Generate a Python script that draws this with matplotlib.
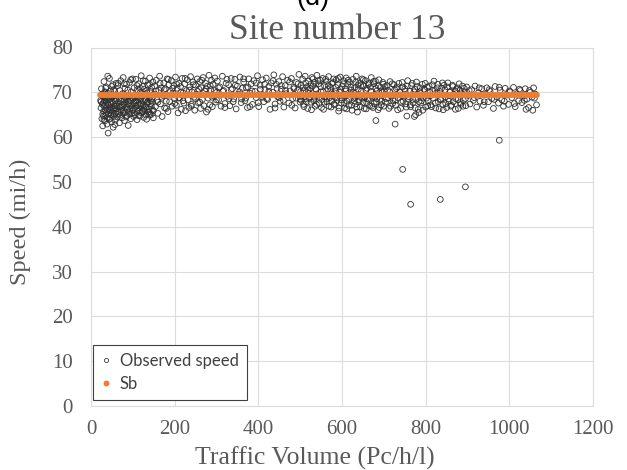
import matplotlib
matplotlib.use("Agg")
import matplotlib.pyplot as plt
from matplotlib.lines import Line2D

# ---------------- data ----------------
obs_volume = [
    # 22-60
    23, 24, 25, 26, 27, 28, 29, 30, 31, 32, 33, 34, 35, 36, 37, 38, 39, 40, 41, 42,
    43, 44, 45, 46, 47, 48, 49, 50, 51, 52, 53, 54, 55, 56, 57, 58, 59, 60,
    26, 29, 33, 36, 38, 42, 45, 48, 51, 54, 57, 60, 31, 44, 53, 40, 35, 47, 58, 28,
    # 60-150
    61, 62, 63, 64, 65, 66, 67, 68, 69, 70, 71, 72, 73, 74, 75, 76, 77, 78, 79, 80,
    81, 82, 83, 84, 85, 86, 87, 88, 89, 90, 91, 92, 93, 94, 95, 96, 97, 98, 99, 100,
    101, 102, 103, 104, 105, 106, 107, 108, 109, 110, 111, 112, 113, 114, 115, 116,
    117, 118, 119, 120, 121, 122, 123, 124, 125, 126, 127, 128, 129, 130, 131, 132,
    133, 134, 135, 136, 137, 138, 139, 140, 141, 142, 143, 144, 145, 146, 147, 148,
    149, 150,
    # 150-300
    152, 154, 156, 158, 160, 162, 164, 166, 168, 170, 172, 174, 176, 178, 180, 182,
    184, 186, 188, 190, 192, 194, 196, 198, 200, 202, 204, 206, 208, 210, 212, 214,
    216, 218, 220, 222, 224, 226, 228, 230, 232, 234, 236, 238, 240, 242, 244, 246,
    248, 250, 252, 254, 256, 258, 260, 262, 264, 266, 268, 270, 272, 274, 276, 278,
    280, 282, 284, 286, 288, 290, 292, 294, 296, 298, 300,
    # 300-500
    302, 305, 308, 311, 314, 317, 320, 323, 326, 329, 332, 335, 338, 341, 344, 347,
    350, 353, 356, 359, 362, 365, 368, 371, 374, 377, 380, 383, 386, 389, 392, 395,
    398, 401, 404, 407, 410, 413, 416, 419, 422, 425, 428, 431, 434, 437, 440, 443,
    446, 449, 452, 455, 458, 461, 464, 467, 470, 473, 476, 479, 482, 485, 488, 491,
    494, 497, 500,
    # 500-700
    502, 504, 506, 508, 510, 512, 514, 516, 518, 520, 522, 524, 526, 528, 530, 532,
    534, 536, 538, 540, 542, 544, 546, 548, 550, 552, 554, 556, 558, 560, 562, 564,
    566, 568, 570, 572, 574, 576, 578, 580, 582, 584, 586, 588, 590, 592, 594, 596,
    598, 600, 602, 604, 606, 608, 610, 612, 614, 616, 618, 620, 622, 624, 626, 628,
    630, 632, 634, 636, 637, 638, 640, 642, 644, 646, 648, 650, 652, 654, 656, 658,
    660, 662, 664, 666, 668, 670, 672, 674, 676, 678, 680, 681, 682, 684, 686, 688,
    690, 692, 694, 696, 698, 700,
    # 700-900
    703, 706, 709, 712, 715, 718, 721, 724, 727, 727, 730, 733, 736, 739, 742, 745,
    748, 751, 754, 755, 757, 760, 763, 766, 769, 772, 773, 775, 776, 778, 781, 784,
    784, 787, 790, 793, 796, 799, 802, 805, 808, 811, 814, 817, 820, 823, 826, 829,
    832, 835, 838, 841, 844, 847, 850, 853, 856, 859, 862, 865, 868, 871, 874, 877,
    880, 883, 886, 889, 892, 895, 898,
    # 900-1065
    902, 906, 910, 914, 918, 922, 926, 930, 934, 938, 942, 946, 950, 954, 958, 962,
    966, 970, 974, 978, 982, 986, 990, 994, 998, 1002, 1006, 1010, 1014, 1018, 1022,
    1026, 1030, 1034, 1038, 1042, 1046, 1050, 1054, 1058, 1062, 1065,
    # low outliers
    745, 764, 835, 895, 976,
]

obs_speed = [
    # 22-60
    68.2, 66.5, 70.8, 64.1, 67.3, 62.5, 69.0, 65.8, 72.4, 66.9, 63.6, 68.7, 64.9, 71.2,
    67.8, 62.9, 66.2, 69.8, 60.9, 65.1, 68.4, 73.1, 66.7, 64.2, 70.3, 67.5, 63.4, 68.9,
    65.6, 71.7, 66.1, 64.6, 69.3, 67.0, 62.8, 68.1, 65.3, 72.0,
    69.3, 67.6, 70.1, 65.4, 68.8, 67.2, 69.1, 65.0, 67.9, 70.6, 66.4, 68.5, 63.9, 64.0,
    62.2, 73.6, 67.1, 66.0, 63.8, 65.1,
    # 60-150
    66.3, 69.4, 64.5, 71.5, 67.7, 65.2, 68.6, 63.2, 70.4, 66.8, 72.6, 65.9, 68.0, 64.3,
    69.7, 67.1, 73.3, 66.0, 68.3, 63.7, 70.9, 65.5, 67.9, 66.6, 71.8, 64.8, 68.9, 67.3,
    62.6, 69.2, 65.7, 72.2, 66.4, 68.1, 64.1, 70.1, 67.0, 65.3, 73.0, 68.5, 66.2, 64.6,
    71.0, 67.6, 69.0, 65.0, 72.9, 66.9, 68.3, 63.9, 70.6, 67.2, 65.8, 71.9, 68.7, 66.5,
    64.7, 70.0, 67.4, 73.7, 65.4, 69.1, 66.0, 71.3, 68.0, 64.4, 70.7, 67.0, 65.9, 72.5,
    68.4, 66.7, 64.0, 69.9, 67.8, 71.6, 65.6, 68.9, 66.3, 73.2, 64.9, 70.2, 67.5, 65.1,
    71.1, 68.6, 66.1, 72.3, 64.3, 69.6,
    # 150-300
    71.4, 66.8, 72.7, 68.2, 65.3, 70.5, 73.6, 67.4, 71.0, 64.6, 69.3, 72.1, 66.5, 70.8,
    68.0, 73.0, 65.7, 71.7, 67.9, 70.2, 72.6, 66.9, 69.8, 71.5, 68.6, 73.4, 67.1, 70.9,
    65.4, 72.0, 68.8, 71.3, 66.2, 73.1, 69.9, 67.6, 71.9, 65.9, 70.4, 72.8, 68.3, 66.6,
    71.2, 73.5, 67.3, 70.1, 72.3, 68.9, 66.0, 71.6, 69.5, 73.0, 67.7, 70.7, 72.4, 66.4,
    71.0, 68.4, 73.3, 67.0, 70.3, 72.0, 65.6, 71.4, 68.7, 73.8, 67.2, 70.6, 72.7, 66.8,
    71.8, 69.2, 73.2, 67.8, 70.0,
    # 300-500
    72.5, 68.3, 71.2, 66.9, 73.6, 70.4, 67.5, 72.0, 69.1, 71.7, 67.0, 73.1, 70.8, 68.5,
    72.9, 66.3, 71.4, 69.6, 73.4, 67.7, 70.9, 72.3, 68.1, 71.0, 66.6, 73.0, 69.8, 71.9,
    67.3, 72.6, 70.2, 68.8, 73.7, 66.8, 71.6, 69.4, 72.8, 67.9, 70.6, 73.2, 68.4, 71.3,
    66.2, 72.1, 70.0, 73.9, 67.4, 71.8, 69.0, 72.4, 68.0, 70.7, 73.5, 66.7, 71.5, 69.7,
    72.7, 67.6, 70.3, 73.1, 68.6, 71.1, 66.5, 72.2, 70.5, 74.0, 67.8,
    # 500-700
    71.6, 69.2, 72.9, 67.3, 70.4, 73.6, 68.6, 71.2, 66.4, 72.5, 69.8, 70.9, 67.8, 73.3,
    71.4, 68.1, 72.2, 66.9, 70.6, 73.8, 69.4, 71.9, 67.5, 72.7, 70.1, 68.4, 73.1, 66.2,
    71.5, 69.0, 72.4, 67.9, 70.7, 73.5, 68.8, 71.1, 66.7, 72.0, 69.6, 73.0, 67.2, 70.3,
    72.8, 68.2, 71.7, 65.8, 70.0, 73.4, 67.6, 71.3, 69.1, 72.6, 66.5, 70.8, 73.2, 68.0,
    71.8, 67.1, 72.3, 69.7, 70.5, 66.0, 72.9, 68.7, 71.0, 67.4, 73.6, 69.3, 65.6, 71.6,
    68.3, 72.1, 66.8, 70.2, 73.0, 67.7, 71.4, 69.0, 72.6, 66.3, 70.9, 68.5, 72.0, 67.0,
    71.2, 73.3, 68.9, 66.6, 71.9, 69.5, 72.5, 63.7, 67.9, 70.4, 66.1, 72.8, 68.4, 71.1,
    67.2, 70.0, 72.2, 66.9,
    # 700-900
    71.3, 68.6, 70.5, 66.4, 72.4, 69.1, 67.5, 71.7, 62.9, 68.2, 70.8, 66.1, 72.0, 69.4,
    67.8, 71.2, 68.9, 70.3, 66.7, 64.7, 72.6, 69.0, 67.2, 71.5, 68.4, 70.1, 64.6, 66.5,
    65.0, 72.3, 69.6, 67.9, 65.5, 71.0, 68.1, 66.0, 70.7, 72.0, 68.7, 67.0, 71.4, 69.2,
    66.8, 70.4, 72.5, 67.6, 69.9, 71.8, 66.3, 68.5, 70.9, 67.3, 71.6, 69.0, 66.6, 72.1,
    68.0, 70.2, 67.1, 71.3, 69.5, 66.2, 70.6, 68.3, 71.9, 67.7, 69.7, 66.9, 70.9, 68.6,
    71.2,
    # 900-1065
    69.3, 67.4, 70.6, 68.2, 71.4, 66.7, 69.9, 68.0, 70.8, 67.1, 69.5, 71.0, 67.9, 70.2,
    68.6, 66.4, 71.3, 69.0, 67.6, 70.5, 68.3, 66.9, 70.9, 69.4, 67.3, 70.1, 68.8, 71.1,
    66.8, 69.7, 68.1, 70.4, 67.7, 69.2, 70.8, 68.5, 66.6, 70.0, 68.9, 71.0, 69.6, 67.2,
    # low outliers
    52.8, 45.0, 46.1, 48.9, 59.3,
]

obs_volume_2 = [
    24, 27, 30, 32, 34, 37, 39, 41, 43, 46, 49, 52, 55, 58,
    62, 64, 67, 69, 72, 74, 77, 79, 82, 84, 87, 89, 92, 94, 97, 99,
    102, 104, 107, 109, 112, 114, 117, 119, 122, 124, 127, 129, 132, 134, 137, 139,
    142, 144, 147, 149,
    35, 50, 65, 80, 95, 110, 125, 140, 57, 88, 118, 133,
    155, 165, 175, 185, 195, 205, 215, 225, 235, 245, 255, 265, 275, 285, 295,
    305, 315, 325, 335, 345, 355, 365, 375, 385, 395, 405, 415, 425, 435, 445, 455,
    465, 475, 485, 495,
    160, 180, 200, 220, 240, 260, 280, 300, 320, 340, 360, 380, 400, 420, 440, 460,
    480, 500,
    170, 210, 250, 290, 330, 370, 410, 450, 490,
    501, 507, 513, 519, 525, 531, 537, 543, 549, 555, 561, 567, 573, 579, 585, 591, 597,
    603, 609, 615, 621, 627, 633, 639, 645, 651, 657, 663, 669, 675, 681, 687, 693, 699,
    503, 509, 515, 521, 527, 533, 539, 545, 551, 557, 563, 569, 575, 581, 587, 593, 599,
    605, 611, 617, 623, 629, 635, 641, 647, 653, 659, 665, 671, 677, 683, 689, 695,
    511, 535, 559, 583, 607, 631, 655, 679,
    701, 708, 714, 720, 726, 732, 738, 744, 750, 756, 762, 768, 774, 780, 786, 792, 798,
    804, 810, 816, 822, 828, 834, 840, 846, 852, 858, 864, 870, 876, 882, 888, 894,
    704, 710, 716, 722, 728, 734, 740, 746, 752, 758, 764, 770, 776, 782, 788, 794, 800,
    806, 812, 818, 824, 830, 836, 842, 848, 854, 860, 866, 872, 878, 884, 890, 896,
    904, 916, 928, 940, 952, 964, 976, 988, 1000, 1012, 1024, 1036, 1048, 1060, 1040, 1056,
]

obs_speed_2 = [
    67.9, 69.6, 64.7, 68.0, 66.0, 69.5, 64.4, 67.4, 65.9, 68.6, 66.6, 69.0, 65.2, 67.3,
    67.0, 65.6, 66.9, 64.9, 68.4, 66.7, 65.3, 67.4, 68.8, 64.5, 66.2, 68.0, 65.1, 67.5, 68.9, 66.0,
    67.7, 65.4, 68.1, 66.4, 69.0, 64.8, 67.0, 68.6, 65.7, 67.2, 66.3, 68.4, 64.9, 67.6, 69.2, 65.5,
    68.2, 66.9, 67.8, 65.9,
    70.9, 71.3, 72.0, 71.9, 72.8, 71.5, 72.6, 71.8, 70.2, 70.5, 70.9, 70.4,
    70.3, 72.0, 70.6, 72.9, 70.9, 71.8, 70.0, 73.1, 70.5, 71.7, 70.2, 72.7, 70.8, 71.5, 70.4,
    71.0, 70.2, 72.9, 70.6, 71.6, 70.1, 73.0, 71.2, 70.3, 72.1, 70.7, 71.8, 70.2, 72.6, 70.9, 71.5,
    70.4, 72.3, 70.8, 71.9,
    67.8, 66.4, 67.5, 68.1, 66.9, 67.8, 66.2, 68.3, 66.6, 67.9, 68.5, 66.8, 67.7, 68.6, 66.5, 68.2,
    67.1, 68.5,
    68.9, 68.7, 68.5, 68.9, 68.6, 68.7, 68.9, 68.8, 68.7,
    70.2, 71.0, 72.1, 70.5, 71.8, 73.0, 70.8, 72.6, 71.3, 70.1, 72.9, 71.5, 70.4, 72.2, 71.1, 73.1, 70.6,
    71.9, 70.3, 72.7, 71.2, 70.0, 72.3, 70.7, 71.5, 72.8, 70.5, 71.7, 70.2, 72.4, 70.9, 71.4, 70.3, 71.8,
    68.2, 66.8, 67.9, 68.7, 66.1, 68.4, 67.3, 68.9, 66.6, 67.8, 68.5, 66.9, 68.0, 67.4, 68.8, 66.5, 68.3,
    67.6, 66.3, 68.6, 67.1, 68.1, 66.7, 67.9, 68.7, 66.4, 67.7, 68.4, 66.9, 67.5, 68.6, 66.6, 68.0,
    69.0, 68.9, 69.0, 68.9, 69.1, 68.9, 69.0, 68.9,
    70.3, 71.5, 70.1, 71.9, 70.6, 71.2, 70.0, 72.2, 70.8, 71.4, 70.2, 72.0, 70.7, 71.3, 70.1, 71.8, 70.5,
    71.1, 70.0, 71.7, 70.4, 71.0, 70.2, 72.1, 70.6, 71.2, 70.0, 71.6, 70.3, 71.0, 70.5, 71.4, 70.1,
    67.8, 68.7, 66.9, 68.2, 67.1, 68.8, 66.4, 68.0, 67.4, 68.6, 66.8, 67.7, 68.4, 66.2, 67.6, 68.9, 66.7,
    68.1, 67.2, 68.7, 66.5, 67.9, 68.3, 66.1, 67.5, 68.5, 66.9, 67.9, 68.6, 66.4, 67.3, 68.2, 67.0,
    70.4, 68.8, 71.0, 67.9, 70.6, 68.4, 71.1, 68.0, 70.3, 67.5, 70.7, 68.2, 70.4, 68.7, 66.2, 66.0,
]

sb_volume = [22, 1065]
sb_speed = [69.5, 69.5]

x_ticks = [0, 200, 400, 600, 800, 1000, 1200]
y_ticks = [0, 10, 20, 30, 40, 50, 60, 70, 80]
legend_labels = ["Observed speed", "Sb"]

# ---------------- figure ----------------
W, H = 627, 470
fig = plt.figure(figsize=(W / 100, H / 100), dpi=100)
ax = fig.add_axes([91 / W, 1 - 406 / H, (593 - 91) / W, (406 - 47.5) / H])

serif = "Liberation Serif"
grey_txt = "#595959"
grid_c = "#dcdcdc"
orange = "#ED7D31"

ax.set_xlim(0, 1200)
ax.set_ylim(0, 80)
ax.set_xticks(x_ticks)
ax.set_yticks(y_ticks)
ax.grid(True, color=grid_c, linewidth=0.8)
ax.set_axisbelow(True)
for s in ax.spines.values():
    s.set_color(grid_c)
    s.set_linewidth(0.8)
ax.tick_params(axis="both", length=0, labelcolor=grey_txt)
ax.tick_params(axis="y", pad=13)
ax.tick_params(axis="x", pad=10)
for lab in ax.get_xticklabels() + ax.get_yticklabels():
    lab.set_fontfamily(serif)
    lab.set_fontsize(15)

ax.scatter(obs_volume + obs_volume_2, obs_speed + obs_speed_2, s=17,
           facecolors="none", edgecolors="#303030", linewidths=0.6, zorder=2)
ax.plot(sb_volume, sb_speed, color=orange, linewidth=4.2,
        solid_capstyle="round", zorder=3)

handles = [
    Line2D([], [], linestyle="none", marker="o", markersize=3,
           markerfacecolor="none", markeredgecolor="#404040", markeredgewidth=0.6),
    Line2D([], [], linestyle="none", marker="o", markersize=3.2,
           markerfacecolor=orange, markeredgecolor=orange),
]
leg = ax.legend(handles, legend_labels, loc="lower left",
                bbox_to_anchor=(0.004, 0.017), borderaxespad=0,
                prop={"family": "Lato", "size": 12}, frameon=True,
                fancybox=False, framealpha=1, edgecolor="#404040",
                handlelength=0.6, handletextpad=0.5, borderpad=0.5,
                labelspacing=0.4)
leg.get_frame().set_linewidth(0.8)
for t in leg.get_texts():
    t.set_color("#404040")

fig.text(337.5 / W, 1 - 39.3 / H, "Site number 13", family=serif, fontsize=25.5,
         color=grey_txt, ha="center", va="baseline")
fig.text(313 / W, 1 - 5 / H, "(d)", family="Liberation Sans", fontsize=19.5,
         color="black", ha="center", va="baseline")
fig.text(314.5 / W, 1 - 465 / H, "Traffic Volume (Pc/h/l)", family=serif,
         fontsize=18.5, color=grey_txt, ha="center", va="baseline")
fig.text(20 / W, 1 - 221.5 / H, "Speed (mi/h)", family=serif, fontsize=17.5,
         color=grey_txt, ha="center", va="center", rotation=90)

fig.savefig("out.png", dpi=100)
